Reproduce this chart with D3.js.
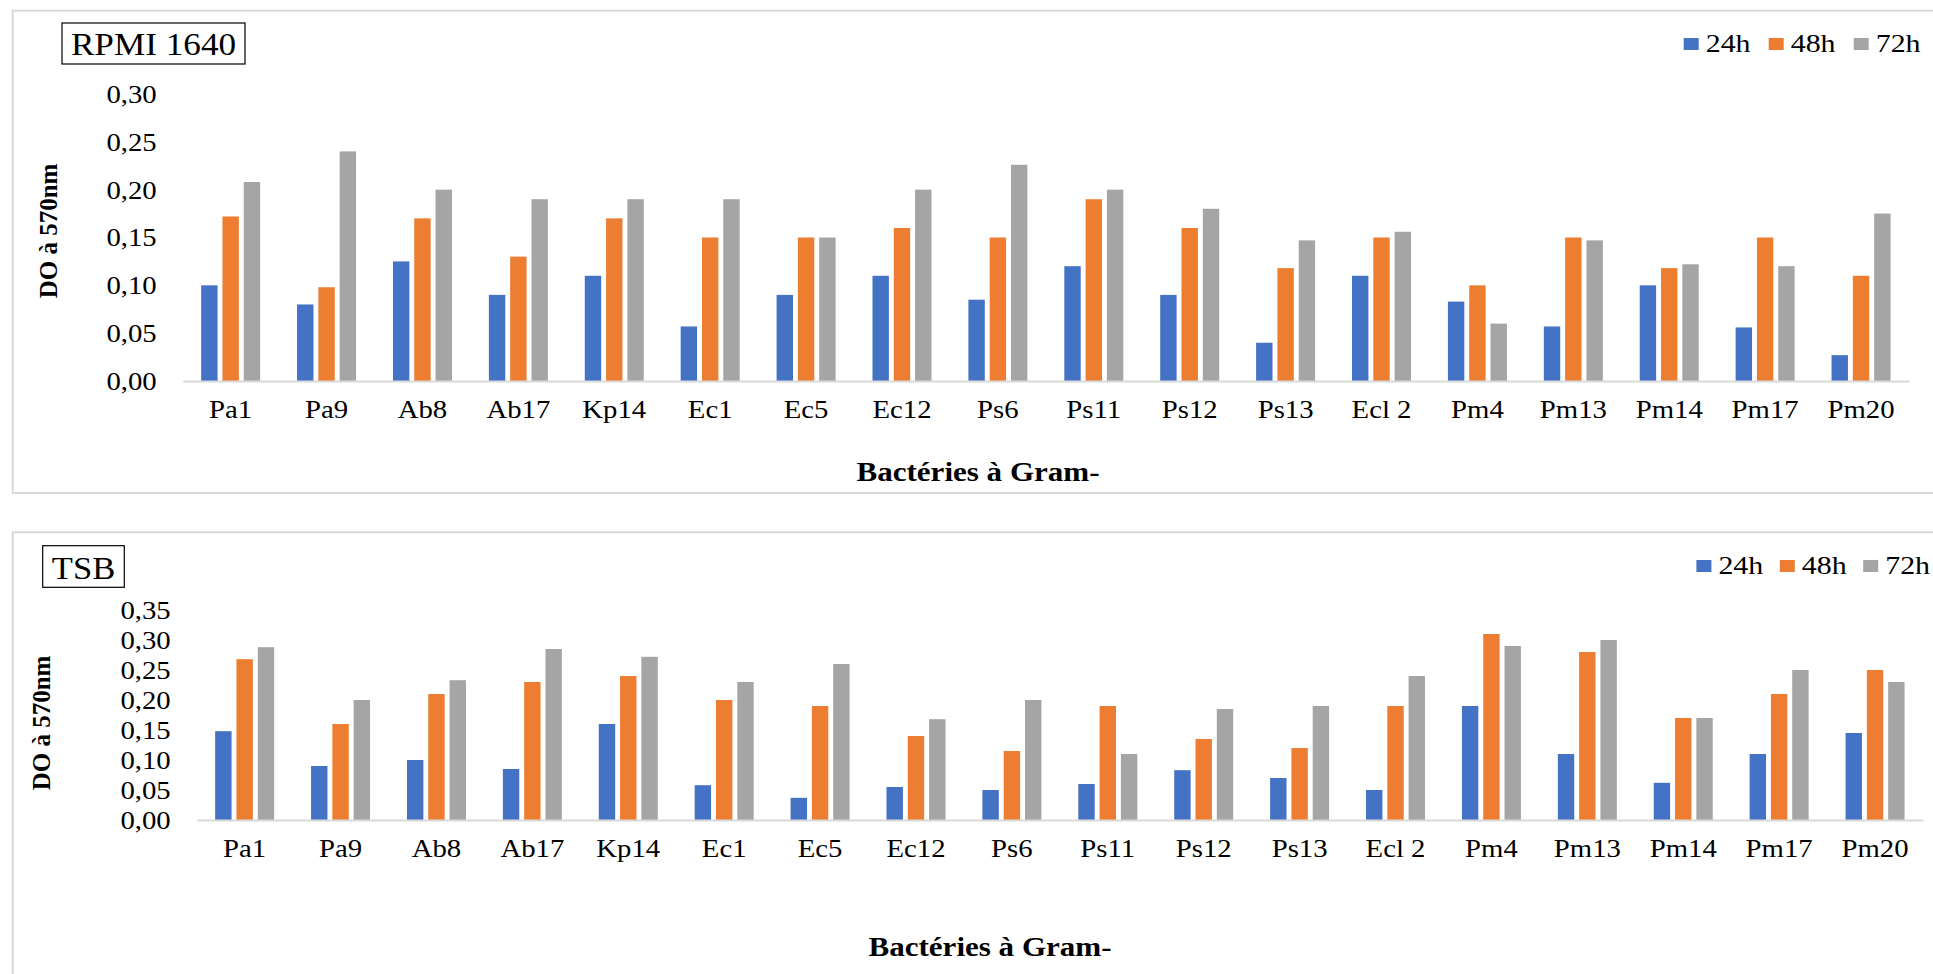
<!DOCTYPE html>
<html><head><meta charset="utf-8">
<script src="https://cdn.jsdelivr.net/npm/d3@7"></script>
<style>
body{margin:0;background:#fff;}
svg{display:block;}
svg text{font-family:"Liberation Serif","Times New Roman",serif;}
</style>
</head><body><svg id="c" width="1933" height="974"></svg>
<script>
const categories = ["Pa1","Pa9","Ab8","Ab17","Kp14","Ec1","Ec5","Ec12","Ps6","Ps11","Ps12","Ps13","Ecl 2","Pm4","Pm13","Pm14","Pm17","Pm20"];
const series = ["24h","48h","72h"];
const seriesColors = ["#4472C4","#ED7D31","#A5A5A5"];
const rpmi24h = [0.10,0.08,0.125,0.09,0.11,0.057,0.09,0.11,0.085,0.12,0.09,0.04,0.11,0.083,0.057,0.10,0.056,0.027];
const rpmi48h = [0.172,0.098,0.17,0.13,0.17,0.15,0.15,0.16,0.15,0.19,0.16,0.118,0.15,0.10,0.15,0.118,0.15,0.11];
const rpmi72h = [0.208,0.24,0.20,0.19,0.19,0.19,0.15,0.20,0.226,0.20,0.18,0.147,0.156,0.06,0.147,0.122,0.12,0.175];
const tsb24h = [0.148,0.09,0.10,0.085,0.16,0.058,0.037,0.055,0.05,0.06,0.083,0.07,0.05,0.19,0.11,0.062,0.11,0.145];
const tsb48h = [0.268,0.16,0.21,0.23,0.24,0.20,0.19,0.14,0.115,0.19,0.135,0.12,0.19,0.31,0.28,0.17,0.21,0.25];
const tsb72h = [0.288,0.20,0.233,0.285,0.272,0.23,0.26,0.168,0.20,0.11,0.185,0.19,0.24,0.29,0.30,0.17,0.25,0.23];
const rpmiTicks = [0,0.05,0.10,0.15,0.20,0.25,0.30];
const tsbTicks = [0,0.05,0.10,0.15,0.20,0.25,0.30,0.35];
const yTitle = "DO à 570nm";
const xTitle = "Bactéries à Gram-";
const panelTitles = ["RPMI 1640","TSB"];

const svg = d3.select("#c");
const SX = 1.15;
const fmt = v => d3.format(".2f")(v).replace(".", ",");

function drawPanel(p) {
  const g = svg.append("g");
  g.append("rect").attr("x",p.frame[0]).attr("y",p.frame[1]).attr("width",p.frame[2]).attr("height",p.frame[3])
    .attr("fill","none").attr("stroke","#d9d9d9").attr("stroke-width",2);

  const x0 = d3.scaleBand().domain(categories).range([p.x0,p.x1]).padding(0);
  const groupW = 59;
  const x1 = d3.scaleBand().domain(series).range([0,groupW]).paddingInner(0.23).paddingOuter(0);
  const y = d3.scaleLinear().domain([0,p.ymax]).range([p.yBase,p.yTop]);
  const off = (x0.bandwidth()-groupW)/2;
  const data = series.map((s,i)=>({s, color: seriesColors[i], vals: p.values[i]}));

  g.selectAll("g.ser").data(data).join("g").attr("class","ser").attr("fill",d=>d.color)
    .selectAll("rect").data(d=>d.vals.map((v,j)=>({c:categories[j],v,s:d.s}))).join("rect")
    .attr("x",d=>x0(d.c)+off+x1(d.s)).attr("width",x1.bandwidth())
    .attr("y",d=>y(d.v)).attr("height",d=>y(0)-y(d.v));

  const xa = g.append("g").attr("transform",`translate(0,${p.yBase})`)
    .call(d3.axisBottom(x0).tickSize(0).tickSizeOuter(0).tickPadding(0));
  xa.attr("font-family",null).attr("font-size",25);
  xa.select(".domain").attr("stroke","#d9d9d9").attr("stroke-width",2);
  xa.selectAll("text").attr("y",0).attr("dy",null).attr("fill","#000")
    .attr("dominant-baseline","central").attr("transform",`translate(0,29) scale(${SX},1)`);

  const ya = g.append("g").attr("transform",`translate(${p.x0},0)`)
    .call(d3.axisLeft(y).tickValues(p.ticks).tickFormat(fmt).tickSize(0).tickPadding(0));
  ya.attr("font-family",null).attr("font-size",25);
  ya.select(".domain").remove();
  ya.selectAll("text").attr("x",0).attr("dy",null).attr("fill","#000")
    .attr("dominant-baseline","central").attr("transform",`translate(-26,0) scale(${SX},1)`);

  g.append("text").text(yTitle).attr("font-weight","bold").attr("font-size",25)
    .attr("text-anchor","middle").attr("dominant-baseline","central")
    .attr("transform",`translate(${p.yTitle[0]},${p.yTitle[1]}) rotate(-90)`);

  g.append("text").text(xTitle).attr("font-weight","bold").attr("font-size",27)
    .attr("text-anchor","middle").attr("dominant-baseline","central")
    .attr("transform",`translate(${p.xTitle[0]},${p.xTitle[1]}) scale(${SX},1)`);

  const lg = g.selectAll("g.leg").data(data).join("g").attr("class","leg")
    .attr("transform",(d,i)=>`translate(${p.legend[0]+i*p.legend[2]},${p.legend[1]})`);
  lg.append("rect").attr("x",0).attr("y",-6).attr("width",15).attr("height",12).attr("fill",d=>d.color);
  lg.append("text").text(d=>d.s).attr("font-size",26).attr("dominant-baseline","central")
    .attr("transform",`translate(22,-1) scale(${SX},1)`);

  const tb = p.titleBox;
  g.append("rect").attr("x",tb[0]).attr("y",tb[1]).attr("width",tb[2]).attr("height",tb[3])
    .attr("fill","#fff").attr("stroke","#000").attr("stroke-width",1.2);
  g.append("text").text(p.title).attr("font-size",32).attr("text-anchor","middle").attr("dominant-baseline","central")
    .attr("transform",`translate(${tb[0]+tb[2]/2},${tb[1]+tb[3]/2+1}) scale(${p.titleSX},1)`);
}

drawPanel({
  frame:[12.7,10.7,1950,482.3], x0:182.7, x1:1909, yBase:381, yTop:94, ymax:0.30,
  ticks:rpmiTicks, values:[rpmi24h,rpmi48h,rpmi72h],
  yTitle:[48,231], xTitle:[978,472], legend:[1683.7,44,85],
  titleBox:[62,23,183,41], title:panelTitles[0], titleSX:1.1
});
drawPanel({
  frame:[12.7,532.3,1950,500], x0:196.7, x1:1923, yBase:820, yTop:610, ymax:0.35,
  ticks:tsbTicks, values:[tsb24h,tsb48h,tsb72h],
  yTitle:[41,723], xTitle:[990,947], legend:[1696.4,566,83.4],
  titleBox:[42.7,545.7,81.6,41.6], title:panelTitles[1], titleSX:1.08
});
</script>
</body></html>
